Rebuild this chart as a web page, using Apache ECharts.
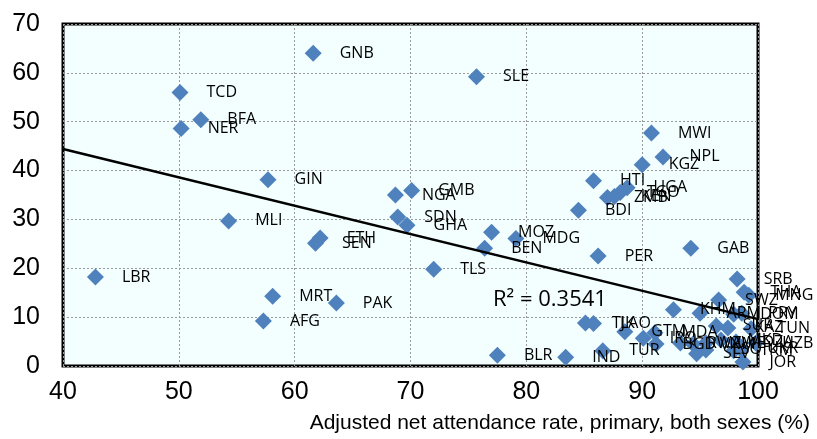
<!DOCTYPE html>
<html>
<head>
<meta charset="utf-8">
<script src="https://cdn.jsdelivr.net/npm/echarts@6/dist/echarts.min.js"></script>
<style>
  html, body { margin: 0; padding: 0; background: #fff; }
  #chart { width: 817px; height: 439px; }
</style>
</head>
<body>
<div id="chart"></div>
<script>
// Country codes and their values (x: adjusted net attendance rate, primary; y: second indicator)
const countryCodes = [
  'GNB','SLE','TCD','BFA','NER','GIN','MWI','NPL','KGZ','HTI',
  'UGA','TGO','KEN','ZMB','BDI','NGA','GMB','SDN','GHA','MLI',
  'ETH','SEN','MOZ','MDG','BEN','PER','TLS','GAB','LBR','MRT',
  'PAK','AFG','BLR','IND','TUR','TJK','LAO','GTM','IRQ','MDA',
  'KHM','ARM','DOM','PRY','THA','MNG','SWZ','SRB','SUR','KAZ',
  'TUN','BGD','RWA','VNM','ZWE','MKD','DZA','UZB','LSO','SLV',
  'TKM','UKR','JOR'
];
const attendanceRate = [
  61.6, 75.7, 50.1, 51.9, 50.2, 57.7, 90.8, 91.8, 90.0, 85.8,
  88.7, 88.1, 87.6, 87.0, 84.5, 68.7, 70.1, 68.9, 69.7, 54.3,
  62.2, 61.8, 77.0, 79.1, 76.4, 86.2, 72.0, 94.2, 42.8, 58.1,
  63.6, 57.3, 77.5, 83.4, 86.6, 85.1, 85.8, 88.5, 90.1, 91.1,
  92.7, 95.0, 97.9, 98.6, 98.8, 99.2, 96.6, 98.2, 96.4, 97.4,
  99.4, 91.2, 93.3, 94.4, 95.5, 96.8, 98.1, 99.8, 95.5, 94.7,
  97.9, 98.5, 98.7
];
const indicatorY = [
  64.0, 59.2, 56.0, 50.4, 48.6, 38.1, 47.7, 42.8, 41.2, 37.9,
  36.5, 35.5, 34.7, 34.5, 31.9, 35.0, 35.9, 30.5, 28.8, 29.7,
  26.2, 25.1, 27.4, 26.1, 24.1, 22.5, 19.8, 24.1, 18.2, 14.3,
  12.9, 9.2, 2.2, 1.8, 3.1, 8.8, 8.7, 7.0, 5.7, 6.8,
  11.5, 10.8, 10.6, 10.8, 15.1, 14.5, 13.5, 17.8, 8.2, 7.8,
  7.6, 4.5, 4.7, 4.5, 4.7, 5.3, 4.9, 4.7, 3.3, 2.5,
  3.1, 3.5, 0.8
];

// Linear trend line end points and its fit statistic
const trendX = [40, 100];
const trendY = [44.4, 9.6];
const rSquaredText = 'R² = 0.3541';

const xTicks = { min: 40, max: 100, step: 10 };
const yTicks = { min: 0, max: 70, step: 10 };
const xTitle = 'Adjusted net attendance rate, primary, both sexes (%)';

const points = countryCodes.map((c, i) => ({ name: c, value: [attendanceRate[i], indicatorY[i]] }));
const trend = trendX.map((x, i) => [x, trendY[i]]);

const chart = echarts.init(document.getElementById('chart'), null, { renderer: 'canvas' });

const axisFont = { fontFamily: 'Liberation Sans', fontSize: 25, color: '#000' };
const gridLine = { show: true, lineStyle: { color: '#9a9a9a', width: 1, type: [2, 2] } };

chart.setOption({
  animation: false,
  grid: {
    left: 63, right: 59, top: 24, bottom: 73,
    show: true, backgroundColor: '#F3FFFF', borderColor: '#000', borderWidth: 3,
    containLabel: false
  },
  xAxis: {
    type: 'value', min: xTicks.min, max: xTicks.max, interval: xTicks.step,
    axisLine: { show: false }, axisTick: { show: false },
    splitLine: gridLine,
    axisLabel: Object.assign({ margin: 14 }, axisFont)
  },
  yAxis: {
    type: 'value', min: yTicks.min, max: yTicks.max, interval: yTicks.step,
    axisLine: { show: false }, axisTick: { show: false },
    splitLine: gridLine,
    axisLabel: Object.assign({ margin: 23 }, axisFont)
  },
  series: [
    {
      type: 'scatter',
      data: points,
      symbol: 'diamond',
      symbolSize: [17, 17],
      itemStyle: { color: '#4F81BD', opacity: 1 },
      z: 2,
      label: {
        show: true, position: 'right', distance: 18,
        formatter: p => p.name,
        fontFamily: 'Open Sans', fontSize: 16, color: '#000', opacity: 1
      },
      labelLayout: { hideOverlap: false }
    },
    {
      type: 'line',
      data: trend,
      symbol: 'none',
      lineStyle: { color: '#000', width: 2.5 },
      z: 5,
      silent: true
    }
  ],
  graphic: [
    {
      type: 'text', left: 493, top: 289, z: 10,
      style: { text: rSquaredText, font: '22px "Open Sans"', fill: '#000' }
    },
    {
      type: 'text', right: 7, top: 413, z: 10,
      style: { text: xTitle, font: '21px "Liberation Sans"', fill: '#000' }
    }
  ]
});
</script>
</body>
</html>
